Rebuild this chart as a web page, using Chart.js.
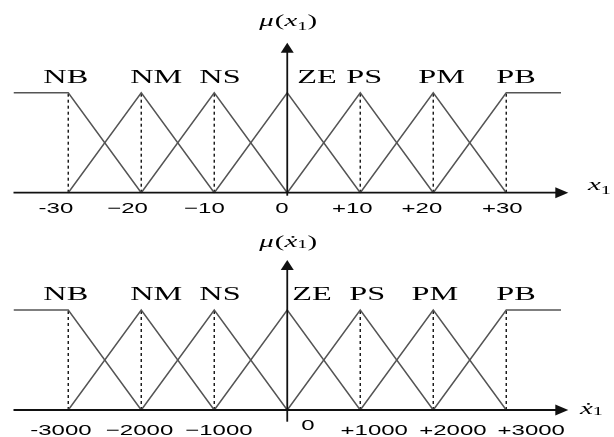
<!DOCTYPE html>
<html>
<head>
<meta charset="utf-8">
<script src="https://cdn.jsdelivr.net/npm/chart.js@4.4.1/dist/chart.umd.min.js"></script>
<style>
html,body{margin:0;padding:0;background:#fff;width:614px;height:437px;overflow:hidden;}
.w{position:absolute;left:0;width:614px;}
</style>
</head>
<body>
<div class="w" style="top:0;height:220px"><canvas id="c1"></canvas></div>
<div class="w" style="top:220px;height:217px"><canvas id="c2"></canvas></div>
<script>
// ---------- data ----------
const setNames = ['NB', 'NM', 'NS', 'ZE', 'PS', 'PM', 'PB'];

// top panel: x1
const centersTop = [-30, -20, -10, 0, 10, 20, 30];
const tickLabelsTop = ['-30', '\u221220', '\u221210', '0', '+10', '+20', '+30'];
const shapeXTop = [
  [-37.5, -30, -20], [-30, -20, -10], [-20, -10, 0], [-10, 0, 10],
  [0, 10, 20], [10, 20, 30], [20, 30, 37.5]
];
// bottom panel: x1 dot
const centersBottom = [-3000, -2000, -1000, 0, 1000, 2000, 3000];
const tickLabelsBottom = ['-3000', '\u22122000', '\u22121000', '0', '+1000', '+2000', '+3000'];
const shapeXBottom = [
  [-3750, -3000, -2000], [-3000, -2000, -1000], [-2000, -1000, 0], [-1000, 0, 1000],
  [0, 1000, 2000], [1000, 2000, 3000], [2000, 3000, 3750]
];
// membership grades (same for both panels)
const shapeY = [
  [1, 1, 0], [0, 1, 0], [0, 1, 0], [0, 1, 0], [0, 1, 0], [0, 1, 0], [0, 1, 1]
];

// ---------- drawing helpers ----------
function stretchText(ctx, text, x, y, font, sx, align) {
  ctx.save();
  ctx.font = font;
  const w = ctx.measureText(text).width * sx;
  const left = align === 'center' ? x - w / 2 : (align === 'right' ? x - w : x);
  ctx.translate(left, y);
  ctx.scale(sx, 1);
  ctx.textAlign = 'left';
  ctx.textBaseline = 'alphabetic';
  ctx.fillStyle = '#000';
  ctx.fillText(text, 0, 0);
  ctx.restore();
  return w;
}
// draw a sequence of [text, font, dy] pieces with horizontal stretch
function richText(ctx, parts, x, y, sx) {
  let cx = x;
  for (const p of parts) {
    cx += stretchText(ctx, p[0], cx, y + (p[2] || 0), p[1], sx, 'left') + (p[3] || 0);
  }
}

const overlay = {
  id: 'overlay',
  afterDatasetsDraw(chart, args, o) {
    const ctx = chart.ctx;
    const xs = chart.scales.x, ys = chart.scales.y;
    const y0 = ys.getPixelForValue(0);
    const y1 = ys.getPixelForValue(1);
    const x0 = xs.getPixelForValue(0);
    ctx.save();
    ctx.strokeStyle = '#111';
    ctx.fillStyle = '#111';
    ctx.lineWidth = 1.8;
    // x axis
    const xEnd = xs.getPixelForValue(xs.max);
    ctx.beginPath();
    ctx.moveTo(xs.getPixelForValue(xs.min), y0);
    ctx.lineTo(xEnd - 8, y0);
    ctx.stroke();
    ctx.beginPath();
    ctx.moveTo(xEnd, y0);
    ctx.lineTo(xEnd - 13, y0 - 5.5);
    ctx.lineTo(xEnd - 13, y0 + 5.5);
    ctx.closePath();
    ctx.fill();
    // y axis
    const yTop = ys.getPixelForValue(ys.max);
    ctx.beginPath();
    ctx.moveTo(x0, ys.getPixelForValue(o.yAxisFrom));
    ctx.lineTo(x0, yTop + 6);
    ctx.stroke();
    ctx.beginPath();
    ctx.moveTo(x0, yTop);
    ctx.lineTo(x0 - 6.5, yTop + 10);
    ctx.lineTo(x0 + 6.5, yTop + 10);
    ctx.closePath();
    ctx.fill();
    ctx.restore();

    // set names above peaks
    o.centers.forEach((c, i) => {
      stretchText(ctx, setNames[i], xs.getPixelForValue(c) + o.nameShift[i], y1 - 10,
        '19px "Liberation Serif"', 1.7, 'center');
    });
    // tick labels
    o.centers.forEach((c, i) => {
      stretchText(ctx, o.ticks[i], xs.getPixelForValue(c) + o.tickShift[i], y0 + o.tickDy[i],
        '15px "Liberation Sans"', 1.6, 'center');
    });
    // axis titles
    const serif = '17px "Liberation Serif"';
    const serifI = 'italic 17px "Liberation Serif"';
    const sub = '12px "Liberation Serif"';
    richText(ctx, [['\u03BC', serifI, 0, 1], ['(', serif], [o.xsym, serifI], ['1', sub, o.subDy], [')', serif]],
      x0 - 28, yTop - o.titleGap, 1.7);
    richText(ctx, [[o.xsym, serifI], ['1', sub, o.subDy]], o.xLabelX, y0 + o.xLabelDy, 1.7);
  }
};

function makeChart(id, shapeX, centers, ticks, cfg) {
  const datasets = [];
  shapeX.forEach((xsArr, i) => {
    datasets.push({
      data: xsArr.map((x, k) => ({ x: x, y: shapeY[i][k] })),
      borderColor: '#555',
      borderWidth: 1.5,
      pointRadius: 0,
      fill: false
    });
  });
  centers.forEach(c => {
    if (c === 0) return;
    datasets.push({
      data: [{ x: c, y: 0 }, { x: c, y: 1 }],
      borderColor: '#111',
      borderWidth: 1.4,
      borderDash: [3, 3],
      pointRadius: 0,
      fill: false
    });
  });
  return new Chart(document.getElementById(id), {
    type: 'line',
    data: { datasets },
    options: {
      responsive: true,
      maintainAspectRatio: false,
      animation: false,
      events: [],
      layout: { padding: cfg.padding },
      scales: {
        x: { type: 'linear', min: cfg.xmin, max: cfg.xmax, display: false },
        y: { type: 'linear', min: -0.12, max: 1.5, display: false }
      },
      elements: { line: { tension: 0 } },
      plugins: {
        legend: { display: false },
        tooltip: { enabled: false },
        overlay: Object.assign({ centers, ticks }, cfg.overlay)
      }
    },
    plugins: [overlay]
  });
}

makeChart('c1', shapeXTop, centersTop, tickLabelsTop, {
  xmin: -37.5, xmax: 38.5,
  padding: { left: 13.5, right: 45.7, top: 42.7, bottom: 15.3 },
  overlay: {
    yAxisFrom: -0.03,
    nameShift: [-2.5, 15, 5.7, 29.7, 4, 8.4, 9.7],
    tickShift: [-12.3, -13.7, -9.8, -5.3, -8, -11.3, -4],
    tickDy: [20, 20, 20, 20, 20, 20, 20],
    xsym: 'x', subDy: 4, titleGap: 17,
    xLabelX: 588, xLabelDy: -3
  }
});
makeChart('c2', shapeXBottom, centersBottom, tickLabelsBottom, {
  xmin: -3750, xmax: 3850,
  padding: { left: 13.5, right: 45.7, top: 40, bottom: 15 },
  overlay: {
    yAxisFrom: -0.117,
    nameShift: [-2.5, 15, 5.7, 24.7, 7, 1.7, 9.7],
    tickShift: [-7.3, -1.7, 4.7, 20.7, 14, 19.7, 25],
    tickDy: [24.5, 24.5, 24.5, 20, 24.5, 24.5, 24.5],
    xsym: '\u1E8B', subDy: 1, titleGap: 13,
    xLabelX: 580, xLabelDy: 4
  }
});
</script>
</body>
</html>
